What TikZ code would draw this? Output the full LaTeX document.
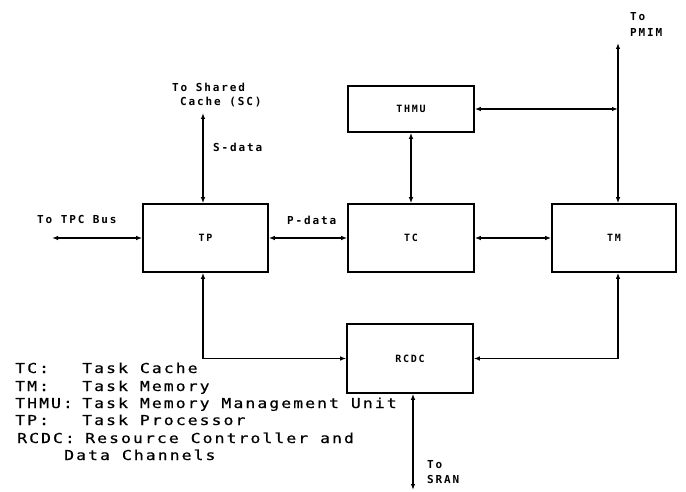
\documentclass[tikz,border=0pt]{standalone}
\usepackage{fontspec}
\usetikzlibrary{arrows.meta}
\newfontfamily\lfont[LetterSpace=15,FakeStretch=1.2,FakeBold=0.6]{DejaVu Sans Mono}
\newfontfamily\bfontt[LetterSpace=17]{DejaVu Sans Mono Bold}
\begin{document}
\begin{tikzpicture}[x=1pt,y=-1pt,
  blk/.style={draw,line width=1.6pt,inner sep=0pt,font=\bfontt\fontsize{10}{12}\selectfont},
  conn/.style={line width=1.2pt,{Latex[length=6pt,width=4.5pt]}-{Latex[length=6pt,width=4.5pt]}},
  lbl/.style={anchor=base west,inner sep=0pt,font=\bfontt\fontsize{11}{13}\selectfont},
  leg/.style={anchor=base west,inner sep=0pt,font=\lfont\fontsize{13.7}{16}\selectfont}]
\fill[white] (0,0) rectangle (686,492);
\useasboundingbox (0,0) rectangle (686,492);
% blocks
\node[blk,minimum width=125pt,minimum height=68pt] (TP) at (205.5,238) {TP};
\node[blk,minimum width=126pt,minimum height=68pt] (TC) at (411,238) {TC};
\node[blk,minimum width=124pt,minimum height=68pt] (TM) at (614,238) {TM};
\node[blk,minimum width=126pt,minimum height=46pt] (THMU) at (411,109) {THMU};
\node[blk,minimum width=126pt,minimum height=69pt] (RCDC) at (410,358.5) {RCDC};
% free ends
\coordinate (tpc) at (52,238);
\coordinate (sc) at (203,113);
\coordinate (pm) at (618,43);
\coordinate (sr) at (413,490);
% connectors
\draw[conn] (tpc) -- (TP.west);
\draw[conn] (TP.east) -- (TC.west);
\draw[conn] (TC.east) -- (TM.west);
\draw[conn] (sc) -- (sc |- TP.north);
\draw[conn] (THMU.south) -- (TC.north);
\draw[conn] (THMU.east) -- (pm |- THMU.east);
\draw[conn] (pm) -- (pm |- TM.north);
\draw[conn] (pm |- TM.south) |- (RCDC.east);
\draw[conn] (sc |- TP.south) |- (RCDC.west);
\draw[conn] (sr |- RCDC.south) -- (sr);
% labels
\node[lbl] (ltpc) at (37,223) {To TPC Bus};
\node[lbl] (lp) at (287,225) {P-data};
\node[lbl] (ls) at (213,152) {S-data};
\node[lbl] (lsc1) at (172,92) {To Shared};
\node[lbl] (lsc2) at (180,106) {Cache (SC)};
\node[lbl] (lpm1) at (630,21) {To};
\node[lbl] (lpm2) at (630,37) {PMIM};
\node[lbl] (lsr1) at (427,468) {To};
\node[lbl] (lsr2) at (427,483) {SRAN};
% legend
\node[leg] (k1) at (15,373) {TC:};
\node[leg] (d1) at (82,373) {Task Cache};
\node[leg] (k2) at (15,391) {TM:};
\node[leg] (d2) at (82,391) {Task Memory};
\node[leg] (k3) at (15,408) {THMU:};
\node[leg] (d3) at (82,408) {Task Memory Management Unit};
\node[leg] (k4) at (15,425) {TP:};
\node[leg] (d4) at (82,425) {Task Processor};
\node[leg] (k5) at (17,443) {RCDC:};
\node[leg] (d5) at (85,443) {Resource Controller and};
\node[leg] (d6) at (64,460) {Data Channels};
\end{tikzpicture}
\end{document}
